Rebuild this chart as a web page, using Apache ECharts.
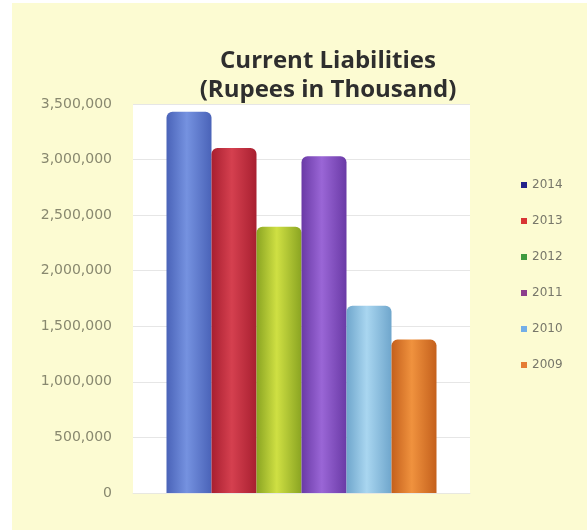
<!DOCTYPE html>
<html>
<head>
<meta charset="utf-8">
<style>
  html, body { margin: 0; padding: 0; background: #ffffff; }
  #chart { width: 587px; height: 530px; }
</style>
<script src="https://cdn.jsdelivr.net/npm/echarts@6/dist/echarts.min.js"></script>
</head>
<body>
<div id="chart"></div>
<script>
// Current liabilities by year, rupees in thousand
const years = ['2014', '2013', '2012', '2011', '2010', '2009'];
const liabilities = [3430000, 3105000, 2395000, 3030000, 1685000, 1380000];
const yTicks = [0, 500000, 1000000, 1500000, 2000000, 2500000, 3000000, 3500000];

// Bar body colours: [edge, centre] for a cylinder-like shading
const barShades = [
  ['#4a63b8', '#7592e0'],
  ['#a81f30', '#d5404f'],
  ['#8aa422', '#cfe043'],
  ['#6a3aa6', '#9a66d6'],
  ['#6fa6cc', '#a9d6f0'],
  ['#c4601c', '#f0923e']
];
// Legend key colours
const keyColors = ['#23238a', '#d83434', '#3f9a3f', '#8c3d8c', '#72aee8', '#e57c34'];

function fmt(v) {
  return v.toString().replace(/\B(?=(\d{3})+(?!\d))/g, ',');
}

const chart = echarts.init(document.getElementById('chart'), null, { renderer: 'canvas' });

const series = years.map((y, i) => ({
  name: y,
  type: 'bar',
  barWidth: 45,
  barGap: '0%',
  data: [liabilities[i]],
  itemStyle: {
    borderRadius: [6, 6, 0, 0],
    color: new echarts.graphic.LinearGradient(0, 0, 1, 0, [
      { offset: 0, color: barShades[i][0] },
      { offset: 0.45, color: barShades[i][1] },
      { offset: 1, color: barShades[i][0] }
    ])
  }
}));

chart.setOption({
  animation: false,
  backgroundColor: '#ffffff',
  graphic: [{
    type: 'rect',
    z: -10,
    shape: { x: 12, y: 3, width: 575, height: 527 },
    style: { fill: '#fcfbd2' }
  }],
  title: {
    text: 'Current Liabilities\n(Rupees in Thousand)',
    left: 323,
    textAlign: 'center',
    top: 42,
    textStyle: {
      fontFamily: 'Open Sans',
      fontWeight: 'bold',
      fontSize: 24,
      lineHeight: 29,
      color: '#2e2e2e'
    }
  },
  legend: {
    orient: 'vertical',
    left: 516,
    top: 174,
    itemWidth: 6,
    itemHeight: 6,
    itemGap: 24,
    icon: 'rect',
    textStyle: { fontFamily: 'DejaVu Sans', fontSize: 12, color: '#77776a' },
    data: years.map((y, i) => ({ name: y, itemStyle: { color: keyColors[i] } }))
  },
  grid: {
    left: 133,
    right: 117,
    top: 104,
    bottom: 37,
    show: true,
    backgroundColor: '#ffffff',
    borderWidth: 0
  },
  xAxis: {
    type: 'category',
    data: [''],
    axisLine: { show: true, lineStyle: { color: '#e8e8e0' } },
    axisTick: { show: false },
    axisLabel: { show: false }
  },
  yAxis: {
    type: 'value',
    min: yTicks[0],
    max: yTicks[yTicks.length - 1],
    interval: yTicks[1] - yTicks[0],
    axisLine: { show: false },
    axisTick: { show: false },
    splitLine: { lineStyle: { color: '#e6e6e6' } },
    axisLabel: {
      margin: 21,
      fontFamily: 'DejaVu Sans',
      fontSize: 14,
      color: '#88886f',
      formatter: fmt
    }
  },
  series: series
});
</script>
</body>
</html>
